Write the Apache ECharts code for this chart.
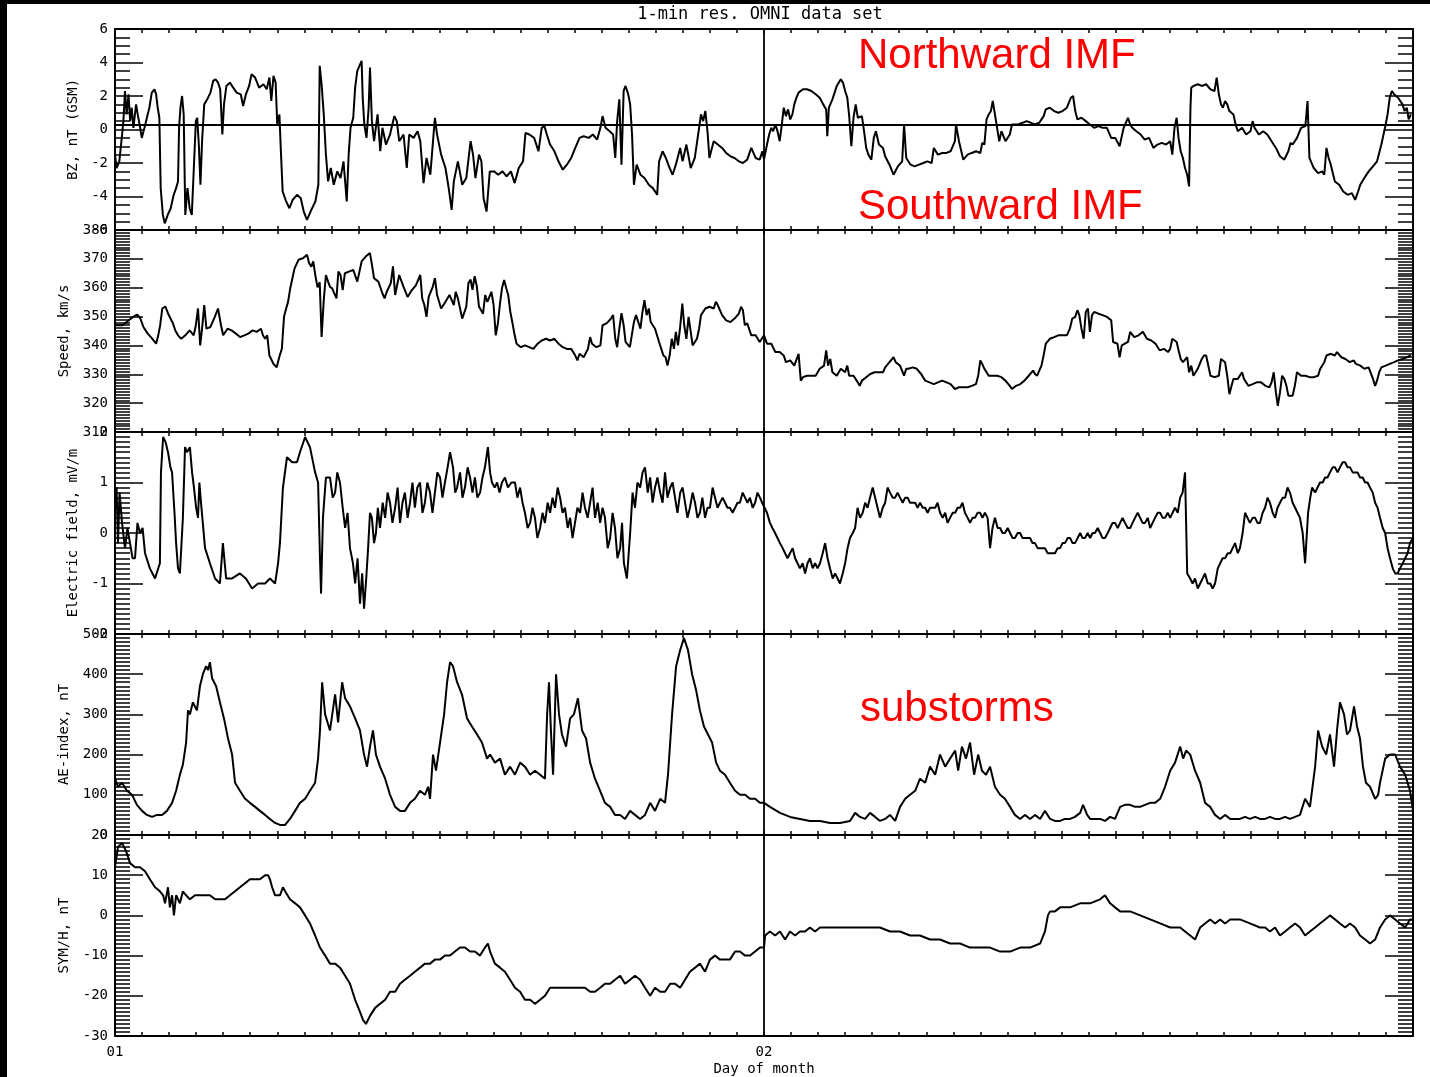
<!DOCTYPE html>
<html>
<head>
<meta charset="utf-8">
<title>1-min res. OMNI data set</title>
<script src="https://cdn.jsdelivr.net/npm/echarts@6/dist/echarts.min.js"></script>
<style>
  html, body { margin: 0; padding: 0; background: #fff; }
  #chart { width: 1430px; height: 1077px; }
</style>
</head>
<body>
<div id="chart"></div>
<script>
// Time is in hours from the start of day 01 (0..48 spans days 01 and 02).
const dayLabels = { 0: '01', 24: '02' };

// IMF Bz, nT (GSM)
const bzPoints = [
  [0.00,-1.5],[0.06,-2.3],[0.16,-1.9],[0.25,-0.5],[0.31,0.5],[0.37,2.3],[0.43,0.9],[0.50,2.1],[0.56,0.5],[0.62,1.3],
  [0.68,0.1],[0.78,1.5],[0.84,0.9],[0.93,0.1],[0.99,-0.5],[1.09,0.1],[1.18,0.7],[1.27,1.3],[1.36,2.2],[1.46,2.4],
  [1.52,2.1],[1.58,1.3],[1.64,0.7],[1.69,-3.5],[1.77,-5.1],[1.84,-5.6],[1.95,-5.1],[2.06,-4.7],[2.17,-3.9],[2.26,-3.5],
  [2.33,-3.1],[2.37,0.1],[2.42,1.3],[2.48,2.0],[2.54,0.9],[2.60,-5.1],[2.68,-3.5],[2.76,-4.7],[2.84,-5.1],[2.91,-2.5],
  [2.99,0.5],[3.04,0.7],[3.10,-0.9],[3.16,-3.3],[3.22,-0.7],[3.30,1.5],[3.41,1.8],[3.53,2.2],[3.63,2.9],[3.72,3.0],
  [3.81,2.8],[3.89,2.4],[3.97,-0.3],[4.03,1.5],[4.12,2.6],[4.25,2.8],[4.37,2.5],[4.50,2.2],[4.65,2.1],[4.74,1.4],
  [4.84,2.1],[4.96,2.6],[5.05,3.3],[5.18,3.1],[5.33,2.5],[5.49,2.7],[5.61,2.4],[5.71,3.1],[5.78,1.7],[5.86,3.2],
  [5.94,2.8],[6.00,0.3],[6.08,0.9],[6.14,-1.5],[6.20,-3.7],[6.33,-4.3],[6.45,-4.7],[6.57,-4.2],[6.73,-3.9],[6.87,-4.1],
  [6.98,-4.9],[7.10,-5.4],[7.26,-4.8],[7.41,-4.3],[7.52,-3.3],[7.57,3.8],[7.64,2.7],[7.72,0.9],[7.80,-1.5],[7.88,-3.1],
  [7.98,-2.3],[8.09,-3.3],[8.22,-2.5],[8.34,-2.9],[8.45,-1.9],[8.57,-4.3],[8.64,-1.5],[8.71,0.1],[8.81,0.7],[8.88,2.5],
  [8.96,3.5],[9.04,3.8],[9.12,4.1],[9.16,1.9],[9.22,0.3],[9.30,-0.5],[9.38,1.3],[9.43,3.7],[9.50,0.5],[9.58,-0.7],
  [9.71,0.9],[9.81,-1.3],[9.89,0.1],[10.02,-0.9],[10.17,-0.3],[10.33,0.8],[10.42,0.5],[10.51,-0.7],[10.67,-0.3],[10.79,-2.3],
  [10.88,-0.3],[11.04,-0.5],[11.19,-0.1],[11.29,-0.7],[11.41,-3.2],[11.52,-1.7],[11.66,-2.7],[11.75,-0.9],[11.83,0.7],[11.91,-0.3],
  [12.06,-1.5],[12.22,-2.3],[12.34,-3.5],[12.45,-4.8],[12.53,-3.1],[12.68,-1.9],[12.84,-3.3],[12.99,-2.9],[13.15,-0.7],[13.24,-1.5],
  [13.33,-2.9],[13.46,-1.5],[13.55,-1.9],[13.63,-4.1],[13.74,-4.9],[13.86,-2.5],[14.02,-2.5],[14.17,-2.7],[14.33,-2.5],[14.48,-2.8],
  [14.64,-2.5],[14.78,-3.2],[14.93,-2.3],[15.09,-1.9],[15.18,-0.2],[15.32,-0.3],[15.50,-0.5],[15.66,-1.3],[15.78,0.1],[15.88,0.2],
  [15.97,-0.3],[16.09,-0.9],[16.25,-1.3],[16.40,-1.9],[16.56,-2.4],[16.71,-2.1],[16.87,-1.7],[17.02,-1.1],[17.18,-0.5],[17.33,-0.4],
  [17.52,-0.5],[17.67,-0.3],[17.83,-0.6],[17.95,0.1],[18.03,0.8],[18.14,0.1],[18.29,-0.1],[18.42,-0.3],[18.50,-1.7],[18.57,0.5],
  [18.65,1.8],[18.73,-2.1],[18.81,2.3],[18.88,2.6],[18.98,2.1],[19.05,1.5],[19.12,-0.3],[19.19,-3.3],[19.29,-2.1],[19.43,-2.7],
  [19.58,-2.9],[19.74,-3.3],[19.89,-3.5],[20.05,-3.9],[20.12,-1.9],[20.25,-1.3],[20.37,-1.7],[20.51,-2.3],[20.62,-2.7],[20.74,-2.1],
  [20.90,-1.1],[20.99,-1.9],[21.13,-0.9],[21.29,-2.3],[21.44,-1.7],[21.60,0.1],[21.67,0.9],[21.75,0.5],[21.83,1.1],[21.91,-0.1],
  [21.98,-1.7],[22.14,-0.7],[22.29,-0.9],[22.45,-1.1],[22.60,-1.4],[22.76,-1.6],[22.91,-1.7],[23.07,-1.9],[23.22,-2.0],[23.38,-1.8],
  [23.53,-1.1],[23.69,-1.7],[23.84,-1.8],[23.94,-1.3],[24.00,-1.8],
  [24.11,-0.9],[24.19,-0.3],[24.27,0.1],[24.34,-0.1],[24.42,0.3],[24.50,-0.1],[24.58,-0.7],[24.66,0.3],[24.73,1.3],[24.81,0.8],
  [24.89,1.2],[24.97,0.6],[25.05,0.9],[25.12,1.5],[25.20,1.9],[25.28,2.2],[25.44,2.4],[25.59,2.4],[25.75,2.3],[25.91,2.1],
  [26.06,1.9],[26.19,1.5],[26.30,1.2],[26.34,-0.4],[26.40,1.3],[26.53,1.8],[26.69,2.6],[26.84,3.0],[26.92,2.8],[27.00,2.3],
  [27.08,1.9],[27.15,0.8],[27.23,-1.0],[27.31,0.7],[27.39,1.5],[27.47,0.7],[27.62,0.8],[27.70,-0.1],[27.78,-1.1],[27.86,-1.5],
  [27.97,-1.8],[28.06,-0.5],[28.14,-0.1],[28.25,-0.9],[28.40,-1.1],[28.48,-1.6],[28.64,-2.1],[28.79,-2.7],[28.95,-2.2],[29.11,-1.9],
  [29.18,0.3],[29.26,-1.7],[29.42,-2.1],[29.57,-2.2],[29.73,-2.1],[29.89,-2.0],[30.04,-1.9],[30.20,-2.0],[30.28,-1.1],[30.43,-1.5],
  [30.59,-1.4],[30.75,-1.4],[30.90,-1.3],[31.06,-0.7],[31.10,0.3],[31.21,-0.7],[31.37,-1.8],[31.53,-1.5],[31.68,-1.4],[31.84,-1.3],
  [32.00,-1.4],[32.07,-0.8],[32.15,-0.9],[32.23,0.6],[32.31,0.9],[32.39,1.1],[32.46,1.7],[32.54,0.9],[32.62,0.1],[32.70,-0.7],
  [32.78,-0.1],[32.93,-0.7],[33.09,-0.3],[33.17,0.3],[33.24,0.3],[33.40,0.3],[33.56,0.4],[33.71,0.5],[33.87,0.4],[34.02,0.3],
  [34.18,0.4],[34.34,0.8],[34.42,1.2],[34.57,1.3],[34.73,1.1],[34.88,1.0],[35.04,1.1],[35.20,1.3],[35.35,1.9],[35.43,2.0],
  [35.51,1.1],[35.59,0.6],[35.74,0.7],[35.90,0.5],[36.05,0.3],[36.21,0.1],[36.37,0.2],[36.52,0.1],[36.68,0.1],[36.84,-0.5],
  [36.99,-0.5],[37.15,-1.0],[37.30,0.1],[37.46,0.7],[37.54,0.3],[37.62,0.1],[37.77,-0.1],[37.93,-0.3],[38.08,-0.6],[38.24,-0.5],
  [38.40,-1.1],[38.55,-0.9],[38.71,-0.8],[38.87,-0.9],[39.02,-0.7],[39.10,-1.5],[39.18,0.1],[39.26,0.7],[39.33,-0.5],[39.41,-1.3],
  [39.49,-1.7],[39.57,-2.3],[39.65,-2.7],[39.72,-3.4],[39.77,1.3],[39.80,2.5],[39.88,2.6],[40.04,2.7],[40.19,2.6],[40.35,2.7],
  [40.51,2.4],[40.66,2.3],[40.74,3.1],[40.82,2.1],[40.90,1.5],[40.97,1.3],[41.05,1.7],[41.13,1.5],[41.21,1.1],[41.36,0.9],
  [41.44,0.3],[41.52,-0.1],[41.68,0.1],[41.83,-0.3],[41.99,-0.1],[42.07,0.5],[42.14,0.1],[42.30,-0.3],[42.46,-0.1],[42.61,-0.3],
  [42.77,-0.7],[42.93,-1.1],[43.08,-1.6],[43.24,-1.8],[43.39,-1.3],[43.47,-0.8],[43.55,-0.9],[43.71,-0.5],[43.86,0.1],[44.02,0.2],
  [44.10,1.7],[44.17,-1.7],[44.33,-2.3],[44.49,-2.6],[44.64,-2.5],[44.72,-2.7],[44.80,-1.1],[44.88,-1.7],[44.96,-2.1],[45.11,-3.1],
  [45.27,-3.3],[45.42,-3.7],[45.58,-3.9],[45.74,-3.8],[45.86,-4.2],[45.97,-3.7],[46.05,-3.3],[46.20,-2.9],[46.36,-2.5],[46.52,-2.2],
  [46.67,-1.9],[46.83,-0.9],[46.91,-0.3],[46.99,0.3],[47.06,0.9],[47.14,1.9],[47.22,2.3],[47.30,2.1],[47.45,1.9],[47.61,1.5],
  [47.69,1.1],[47.77,1.3],[47.84,0.6],[47.92,0.9]
];

// Solar wind speed, km/s
const speedPoints = [
  [0.00,347],[0.28,347],[0.51,348.7],[0.67,349.9],[0.82,350.7],[0.93,349.5],[1.05,346.4],[1.21,344.1],[1.36,342.5],[1.52,340.6],
  [1.60,343.5],[1.67,347],[1.75,352.8],[1.86,353.5],[1.98,350.7],[2.14,347.7],[2.23,345.2],[2.33,343.5],[2.45,342.3],[2.60,343.5],
  [2.76,345.2],[2.91,343.5],[2.99,347],[3.07,352.8],[3.15,340],[3.22,345.8],[3.30,354],[3.38,345.8],[3.53,346.4],[3.69,349.9],
  [3.81,352.8],[3.92,347],[4.00,343.5],[4.16,345.8],[4.31,345.2],[4.47,344.1],[4.62,342.9],[4.78,343.5],[4.93,344.1],[5.09,345.2],
  [5.24,344.7],[5.40,345.8],[5.47,343.5],[5.55,342.3],[5.63,343.5],[5.71,336.5],[5.86,333.6],[5.98,332.4],[6.09,336.5],[6.17,338.8],
  [6.25,349.9],[6.33,352.8],[6.40,355.1],[6.48,359.8],[6.64,366.7],[6.79,369.7],[6.95,370.2],[7.10,371.4],[7.18,368.5],[7.26,367.3],
  [7.33,369.1],[7.41,364.2],[7.49,360.1],[7.57,361.9],[7.64,342.9],[7.72,355.7],[7.80,364.4],[7.88,362.1],[7.95,360.3],[8.03,359.8],
  [8.19,356.3],[8.26,365.6],[8.34,364.4],[8.42,359.2],[8.50,365],[8.65,365.6],[8.81,366.2],[8.96,362.1],[9.12,369.1],[9.27,370.8],
  [9.43,372.0],[9.50,368],[9.58,363.3],[9.74,362.1],[9.89,358.0],[9.97,356.3],[10.05,358.6],[10.20,361.6],[10.28,367.4],[10.36,357.5],
  [10.51,364.4],[10.67,360.3],[10.82,356.8],[10.98,359.2],[11.13,360.9],[11.29,364.4],[11.36,356.3],[11.44,354],[11.52,349.9],[11.60,356.8],
  [11.75,360.3],[11.83,363.3],[11.91,357.5],[12.06,352.8],[12.22,355.1],[12.37,357.5],[12.53,354],[12.60,358.6],[12.68,356.3],[12.84,349.3],
  [12.99,353.4],[13.07,361.6],[13.15,362.8],[13.22,359.3],[13.30,364],[13.38,360.5],[13.46,353.5],[13.61,351],[13.69,357.5],[13.77,355.1],
  [13.92,358.6],[14.00,354],[14.08,343.5],[14.16,347.7],[14.23,354],[14.31,359.8],[14.39,362.7],[14.47,359.8],[14.54,357.5],[14.62,351.6],
  [14.70,347.7],[14.78,343.5],[14.85,340.6],[15.01,339.4],[15.16,340],[15.32,339.4],[15.47,338.8],[15.63,340.6],[15.78,341.7],[15.94,342.3],
  [16.09,341.7],[16.25,342.3],[16.40,340.6],[16.56,339.4],[16.71,338.8],[16.87,338.8],[17.02,336.5],[17.10,334.8],[17.18,337.1],[17.33,335.9],
  [17.49,338.8],[17.57,342.9],[17.64,340.6],[17.80,339.4],[17.95,340],[18.03,347],[18.19,347.7],[18.34,349.3],[18.42,350.5],[18.50,342.3],
  [18.57,339.4],[18.65,345.8],[18.73,351.2],[18.81,347],[18.88,341.2],[19.04,339.4],[19.19,348.1],[19.27,350.5],[19.43,345.8],[19.50,351.2],
  [19.58,355.7],[19.66,350.5],[19.74,352.8],[19.81,348.1],[19.97,345.8],[20.12,341.2],[20.28,336.5],[20.36,335.9],[20.43,333],[20.51,336.5],
  [20.59,342.3],[20.67,338.8],[20.74,344.7],[20.82,340],[20.90,346.4],[20.98,354.5],[21.05,347],[21.13,342.3],[21.21,349.9],[21.29,344.7],
  [21.36,340],[21.52,342.3],[21.60,345.8],[21.67,350.5],[21.83,352.8],[21.98,353.4],[22.14,352.8],[22.22,355.1],[22.29,354],[22.45,350.5],
  [22.60,348.7],[22.76,348.1],[22.91,349.3],[23.07,351],[23.15,353.4],[23.22,352.2],[23.29,347],[23.38,347.7],[23.53,343.5],[23.69,343.5],
  [23.84,341.2],[24.00,343.5],
  [24.11,340.6],[24.27,340.6],[24.42,337.7],[24.58,337.7],[24.73,336.5],[24.81,334.2],[24.97,334.8],[25.12,333.0],[25.28,337.1],[25.36,327.8],
  [25.44,329.0],[25.59,329.5],[25.75,329.5],[25.91,329.5],[26.06,331.9],[26.22,333.0],[26.30,338.3],[26.37,333.0],[26.45,335.3],[26.53,330.7],
  [26.69,329.5],[26.84,331.9],[27.00,330.7],[27.08,333.0],[27.15,329.5],[27.31,329.5],[27.47,327.2],[27.54,326.0],[27.62,327.8],[27.78,329.0],
  [27.93,330.1],[28.09,330.7],[28.25,330.7],[28.40,330.7],[28.48,332.4],[28.64,334.2],[28.79,335.9],[28.87,334.2],[29.03,333.0],[29.18,329.5],
  [29.26,331.9],[29.34,331.9],[29.50,332.4],[29.65,331.9],[29.81,330.1],[29.96,327.8],[30.12,327.2],[30.28,326.6],[30.43,327.2],[30.59,327.8],
  [30.75,327.2],[30.90,326.6],[31.06,324.9],[31.21,325.5],[31.37,325.5],[31.53,325.5],[31.68,326.0],[31.84,326.6],[31.92,329.5],[32.00,334.8],
  [32.07,333.6],[32.15,331.9],[32.31,329.5],[32.46,329.5],[32.62,329.5],[32.78,329.0],[32.93,327.8],[33.09,326.0],[33.17,324.9],[33.32,326.0],
  [33.48,326.6],[33.63,327.8],[33.79,329.5],[33.95,331.3],[34.02,330.1],[34.10,329.5],[34.26,333.0],[34.34,336.5],[34.42,340.6],[34.57,342.3],
  [34.73,342.9],[34.88,343.5],[35.04,343.5],[35.20,343.5],[35.31,345.8],[35.40,349.3],[35.51,349.9],[35.59,352.2],[35.66,350.5],[35.74,345.8],
  [35.82,342.3],[35.90,351.6],[35.98,352.8],[36.05,344.7],[36.13,350.5],[36.21,351.6],[36.37,351.0],[36.52,350.5],[36.68,349.9],[36.84,348.7],
  [36.91,341.2],[37.07,340.6],[37.15,335.9],[37.23,340.0],[37.30,340.6],[37.46,341.2],[37.54,344.7],[37.69,342.9],[37.85,343.5],[38.01,344.7],
  [38.16,342.3],[38.32,341.7],[38.48,340.6],[38.63,338.3],[38.79,338.8],[38.94,337.7],[39.02,338.8],[39.10,342.3],[39.26,341.2],[39.33,338.3],
  [39.41,335.3],[39.49,334.2],[39.65,335.9],[39.72,330.7],[39.80,333.0],[39.88,329.5],[40.04,331.9],[40.19,335.3],[40.27,336.5],[40.35,336.5],
  [40.51,329.5],[40.66,329.0],[40.82,329.5],[40.90,335.3],[40.97,335.9],[41.05,334.2],[41.13,329.5],[41.21,323.1],[41.29,326.0],[41.36,328.4],
  [41.52,328.4],[41.68,330.7],[41.75,328.4],[41.91,326.0],[42.07,326.6],[42.22,327.2],[42.38,327.2],[42.54,326.0],[42.69,325.5],[42.77,327.2],
  [42.85,330.7],[42.93,323.7],[43.00,319.1],[43.08,323.7],[43.16,329.5],[43.24,328.4],[43.32,326.0],[43.39,322.6],[43.55,322.6],[43.63,326.0],
  [43.71,330.7],[43.86,329.5],[44.02,329.5],[44.17,329.0],[44.33,329.0],[44.49,329.5],[44.57,331.9],[44.72,334.2],[44.80,336.5],[44.96,337.1],
  [45.11,336.5],[45.19,337.7],[45.35,335.9],[45.50,335.3],[45.66,334.2],[45.81,334.8],[45.89,333.6],[46.05,333.0],[46.20,331.9],[46.36,332.4],
  [46.52,328.4],[46.60,326.0],[46.67,327.8],[46.75,330.7],[46.83,332.4],[46.99,333.0],[47.14,333.6],[47.30,334.2],[47.45,334.8],[47.61,335.3],
  [47.77,335.9],[47.92,336.5]
];

// Electric field, mV/m
const efieldPoints = [
  [0,0.5],[0.06,0.9],[0.11,-0.2],[0.17,0.8],[0.26,0.2],[0.37,-0.3],[0.46,0.1],[0.555,-0.2],[0.65,-0.5],[0.74,-0.5],[0.83,0.2],[0.925,0],
  [1.02,0.1],[1.11,-0.4],[1.29,-0.7],[1.48,-0.9],[1.66,-0.6],[1.70,1.2],[1.78,1.9],[1.87,1.8],[1.96,1.6],[2.05,1.3],[2.11,1.2],
  [2.20,0.4],[2.26,-0.2],[2.33,-0.7],[2.40,-0.8],[2.51,0.3],[2.59,1.7],[2.66,1.6],[2.77,1.7],[2.85,1.2],[2.92,0.9],[3.00,0.5],
  [3.07,0.3],[3.12,1.0],[3.18,0.6],[3.33,-0.3],[3.51,-0.6],[3.70,-0.9],[3.88,-1.0],[3.99,-0.2],[4.11,-0.9],[4.33,-0.9],
  [4.62,-0.8],[4.84,-0.9],[5.07,-1.1],[5.29,-1.0],[5.55,-1.0],[5.73,-0.9],[5.92,-1.0],[6.03,-0.6],[6.10,-0.2],[6.21,0.9],
  [6.36,1.5],[6.55,1.4],[6.73,1.4],[6.84,1.6],[7.03,1.9],[7.21,1.7],[7.40,1.2],[7.51,1.0],[7.58,-0.5],[7.62,-1.2],
  [7.69,0.3],[7.80,1.1],[7.95,1.1],[8.05,0.7],[8.14,0.8],[8.22,1.2],[8.32,1.0],[8.42,0.5],[8.51,0.1],[8.60,0.4],[8.69,-0.3],
  [8.80,-0.6],[8.88,-1.0],[8.97,-0.5],[9.06,-1.4],[9.14,-0.8],[9.21,-1.5],[9.29,-0.9],[9.36,-0.3],[9.43,0.4],[9.50,0.3],
  [9.58,-0.2],[9.65,0.0],[9.72,0.5],[9.80,0.1],[9.90,0.6],[9.99,0.3],[10.08,0.8],[10.17,0.6],[10.26,0.2],[10.36,0.5],
  [10.45,0.9],[10.54,0.2],[10.63,0.6],[10.72,0.8],[10.82,0.3],[10.91,0.6],[11.00,1.0],[11.09,0.5],[11.18,0.9],[11.28,1.0],
  [11.37,0.4],[11.46,0.6],[11.55,1.0],[11.65,0.8],[11.74,0.4],[11.83,0.8],[11.92,1.2],[12.02,1.1],[12.11,0.7],[12.20,1.0],
  [12.30,1.3],[12.39,1.6],[12.50,1.3],[12.58,0.8],[12.65,0.9],[12.76,1.2],[12.85,0.7],[12.94,0.9],[13.04,1.3],[13.13,1.1],
  [13.22,0.8],[13.31,1.1],[13.40,0.7],[13.50,0.8],[13.59,1.1],[13.68,1.3],[13.79,1.7],[13.87,1.2],[13.94,1.0],[14.04,0.9],[14.13,1.0],
  [14.22,0.8],[14.31,1.0],[14.42,1.1],[14.53,0.9],[14.66,1.0],[14.79,1.0],[14.88,0.7],[14.98,0.9],[15.07,0.6],[15.16,0.4],
  [15.26,0.1],[15.35,0.2],[15.44,0.5],[15.53,0.3],[15.62,-0.1],[15.72,0.1],[15.81,0.4],[15.90,0.2],[16.00,0.6],[16.09,0.4],
  [16.18,0.7],[16.27,0.5],[16.37,0.9],[16.46,0.7],[16.55,0.4],[16.64,0.5],[16.74,0.1],[16.83,0.3],[16.92,-0.1],[17.01,0.2],
  [17.10,0.5],[17.20,0.4],[17.29,0.8],[17.38,0.5],[17.48,0.3],[17.57,0.6],[17.66,0.9],[17.75,0.3],[17.85,0.6],[17.94,0.2],
  [18.03,0.5],[18.12,0.3],[18.22,-0.3],[18.31,-0.1],[18.40,0.4],[18.49,0.1],[18.58,-0.5],[18.68,-0.3],[18.75,0.2],[18.82,-0.6],
  [18.93,-0.9],[19.05,0.0],[19.14,0.8],[19.23,0.5],[19.32,1.0],[19.42,0.9],[19.51,1.2],[19.60,1.3],[19.70,0.8],[19.79,1.1],
  [19.88,0.6],[19.97,0.9],[20.06,1.1],[20.16,0.8],[20.25,0.6],[20.34,1.2],[20.43,0.7],[20.53,0.9],[20.62,1.0],[20.71,0.7],
  [20.80,0.4],[20.90,0.8],[20.99,0.9],[21.08,0.6],[21.17,0.3],[21.26,0.5],[21.36,0.8],[21.45,0.6],[21.54,0.3],[21.63,0.4],
  [21.72,0.7],[21.82,0.3],[21.91,0.5],[22.00,0.5],[22.10,0.9],[22.19,0.7],[22.28,0.5],[22.37,0.6],[22.47,0.7],[22.56,0.6],
  [22.65,0.5],[22.74,0.5],[22.84,0.4],[22.93,0.5],[23.02,0.6],[23.11,0.6],[23.21,0.8],[23.30,0.7],[23.39,0.6],[23.48,0.7],
  [23.58,0.5],[23.67,0.6],[23.76,0.8],[23.85,0.7],[23.93,0.6],[24.0,0.6],
  [24.11,0.4],[24.22,0.2],[24.31,0.1],[24.41,0.0],[24.50,-0.1],[24.59,-0.2],[24.69,-0.3],[24.78,-0.4],[24.87,-0.5],[24.96,-0.4],
  [25.06,-0.3],[25.15,-0.5],[25.24,-0.6],[25.33,-0.7],[25.43,-0.6],[25.52,-0.8],[25.61,-0.6],[25.70,-0.5],[25.80,-0.7],[25.89,-0.6],
  [25.98,-0.7],[26.07,-0.6],[26.17,-0.4],[26.26,-0.2],[26.35,-0.5],[26.44,-0.7],[26.54,-0.9],[26.63,-0.8],[26.72,-0.9],[26.81,-1.0],
  [26.91,-0.8],[27.00,-0.6],[27.09,-0.3],[27.18,-0.1],[27.28,0.0],[27.37,0.1],[27.46,0.5],[27.55,0.3],[27.65,0.4],[27.74,0.6],
  [27.83,0.5],[27.92,0.7],[28.02,0.9],[28.11,0.7],[28.20,0.5],[28.29,0.3],[28.39,0.5],[28.48,0.6],[28.57,0.9],[28.66,0.8],
  [28.76,0.7],[28.85,0.7],[28.94,0.8],[29.03,0.7],[29.13,0.6],[29.22,0.7],[29.31,0.7],[29.40,0.6],[29.50,0.6],[29.59,0.6],
  [29.68,0.5],[29.77,0.6],[29.87,0.5],[29.96,0.5],[30.05,0.4],[30.14,0.5],[30.24,0.5],[30.33,0.5],[30.42,0.6],[30.51,0.4],
  [30.61,0.3],[30.70,0.4],[30.79,0.2],[30.88,0.3],[30.98,0.4],[31.07,0.4],[31.16,0.5],[31.25,0.5],[31.34,0.6],[31.43,0.4],
  [31.53,0.3],[31.62,0.2],[31.71,0.3],[31.80,0.3],[31.90,0.4],[31.99,0.4],[32.08,0.3],[32.17,0.4],[32.27,0.3],[32.36,-0.3],
  [32.45,0.1],[32.54,0.3],[32.64,0.1],[32.73,0.1],[32.82,0.0],[32.91,0.0],[33.01,0.1],[33.10,0.0],[33.19,-0.1],[33.28,-0.1],
  [33.38,0.0],[33.47,0.0],[33.56,-0.1],[33.65,-0.1],[33.75,-0.1],[33.84,-0.1],[33.93,-0.2],[34.02,-0.2],[34.12,-0.3],[34.21,-0.3],
  [34.30,-0.3],[34.39,-0.3],[34.49,-0.4],[34.58,-0.4],[34.67,-0.4],[34.76,-0.4],[34.86,-0.3],[34.95,-0.3],[35.04,-0.2],[35.13,-0.2],
  [35.23,-0.1],[35.32,-0.1],[35.41,-0.2],[35.50,-0.2],[35.60,-0.1],[35.69,0.0],[35.78,-0.1],[35.87,-0.1],[35.97,0.0],[36.06,-0.1],
  [36.15,0.0],[36.24,0.0],[36.34,0.1],[36.43,0.0],[36.52,-0.1],[36.61,-0.1],[36.71,0.0],[36.80,0.1],[36.89,0.2],[36.98,0.2],
  [37.08,0.1],[37.17,0.2],[37.26,0.3],[37.35,0.2],[37.45,0.1],[37.54,0.1],[37.63,0.2],[37.72,0.3],[37.82,0.4],[37.91,0.3],
  [38.00,0.2],[38.09,0.2],[38.19,0.3],[38.28,0.1],[38.37,0.2],[38.46,0.3],[38.56,0.4],[38.65,0.4],[38.74,0.3],[38.83,0.3],
  [38.93,0.4],[39.02,0.3],[39.11,0.4],[39.20,0.5],[39.30,0.4],[39.39,0.7],[39.48,0.8],[39.57,1.2],[39.65,-0.8],[39.76,-0.9],
  [39.85,-1.0],[39.94,-0.9],[40.04,-1.1],[40.13,-1.0],[40.22,-0.9],[40.31,-0.8],[40.41,-1.0],[40.50,-1.0],[40.59,-1.1],[40.68,-1.0],
  [40.78,-0.7],[40.87,-0.6],[40.96,-0.5],[41.05,-0.5],[41.15,-0.4],[41.24,-0.4],[41.33,-0.3],[41.42,-0.2],[41.52,-0.4],[41.60,-0.3],
  [41.70,0.0],[41.79,0.4],[41.88,0.3],[41.97,0.2],[42.07,0.3],[42.16,0.3],[42.25,0.2],[42.34,0.2],[42.44,0.4],[42.53,0.5],
  [42.62,0.7],[42.71,0.6],[42.81,0.4],[42.90,0.3],[42.99,0.5],[43.08,0.6],[43.18,0.7],[43.27,0.7],[43.36,0.9],[43.45,0.8],
  [43.55,0.6],[43.64,0.5],[43.73,0.4],[43.82,0.3],[43.92,0.0],[44.01,-0.6],[44.12,0.4],[44.20,0.7],[44.27,0.9],[44.38,0.8],
  [44.47,0.9],[44.56,1.0],[44.66,1.0],[44.75,1.1],[44.84,1.1],[44.93,1.2],[45.03,1.3],[45.12,1.3],[45.21,1.2],[45.30,1.3],
  [45.40,1.4],[45.49,1.4],[45.58,1.3],[45.67,1.3],[45.77,1.2],[45.86,1.2],[45.95,1.2],[46.04,1.1],[46.14,1.1],[46.23,1.0],
  [46.32,1.0],[46.41,0.9],[46.51,0.8],[46.60,0.6],[46.69,0.5],[46.78,0.3],[46.88,0.1],[46.97,0.0],[47.06,-0.3],[47.15,-0.5],
  [47.25,-0.7],[47.34,-0.8],[47.43,-0.8],[47.52,-0.7],[47.62,-0.6],[47.71,-0.5],[47.80,-0.4],[47.89,-0.2],[48.0,-0.1]
];

// AE index, nT
const aePoints = [
  [0,140],[0.11,120],[0.26,130],[0.44,110],[0.63,100],[0.81,75],[1.00,60],[1.18,50],[1.37,45],[1.55,50],
  [1.74,50],[1.92,60],[2.11,80],[2.26,110],[2.40,150],[2.51,175],[2.63,230],[2.70,310],[2.77,300],[2.88,330],
  [3.03,310],[3.14,370],[3.25,400],[3.37,420],[3.44,410],[3.51,430],[3.59,390],[3.74,370],[3.88,330],[4.03,290],
  [4.18,240],[4.33,200],[4.44,130],[4.62,110],[4.81,90],[4.99,80],[5.18,70],[5.36,60],[5.55,50],[5.73,40],
  [5.92,30],[6.10,25],[6.29,25],[6.47,40],[6.66,60],[6.84,80],[7.03,90],[7.21,110],[7.40,130],[7.51,190],
  [7.58,260],[7.66,380],[7.77,300],[7.95,260],[8.14,350],[8.25,280],[8.40,380],[8.51,340],[8.69,320],[8.88,290],
  [9.06,260],[9.21,200],[9.32,170],[9.43,220],[9.54,260],[9.65,200],[9.80,170],[9.99,140],[10.17,100],[10.36,70],
  [10.54,60],[10.72,60],[10.91,80],[11.09,90],[11.28,110],[11.46,100],[11.58,120],[11.65,90],[11.76,200],[11.87,160],
  [12.02,230],[12.17,300],[12.28,380],[12.39,430],[12.50,420],[12.65,380],[12.83,350],[13.02,290],[13.20,270],[13.39,250],
  [13.57,230],[13.76,190],[13.87,200],[14.05,180],[14.24,190],[14.42,150],[14.61,170],[14.79,150],[14.98,180],[15.16,170],
  [15.35,150],[15.53,160],[15.72,150],[15.90,140],[15.98,300],[16.05,380],[16.12,260],[16.20,150],[16.31,400],[16.42,300],
  [16.53,250],[16.68,220],[16.83,290],[16.97,300],[17.12,340],[17.27,260],[17.42,240],[17.57,180],[17.75,140],[17.94,110],
  [18.12,80],[18.31,70],[18.49,50],[18.68,50],[18.86,40],[19.05,60],[19.23,50],[19.42,40],[19.60,50],[19.79,80],
  [19.97,60],[20.16,90],[20.34,80],[20.45,150],[20.60,300],[20.75,420],[20.90,460],[21.04,490],[21.19,460],[21.34,400],
  [21.49,360],[21.63,310],[21.78,270],[21.93,250],[22.08,230],[22.23,180],[22.37,160],[22.56,150],[22.74,130],[22.93,110],
  [23.11,100],[23.30,100],[23.48,90],[23.67,90],[23.85,80],[24.0,80],
  [24.22,70],[24.59,55],[24.96,45],[25.33,40],[25.70,35],[26.07,35],[26.44,30],[26.81,30],[27.18,35],[27.37,55],
  [27.55,45],[27.74,40],[27.92,55],[28.11,45],[28.29,35],[28.48,40],[28.66,50],[28.85,35],[29.03,70],[29.22,90],
  [29.40,100],[29.59,110],[29.77,140],[29.96,130],[30.14,170],[30.33,150],[30.51,200],[30.70,170],[30.88,190],[31.07,210],
  [31.18,160],[31.32,220],[31.47,190],[31.62,230],[31.77,150],[31.92,200],[32.06,160],[32.21,150],[32.36,170],[32.54,120],
  [32.73,100],[32.91,90],[33.10,70],[33.28,50],[33.47,40],[33.65,50],[33.84,40],[34.02,50],[34.21,40],[34.39,60],
  [34.58,40],[34.76,35],[34.95,35],[35.13,40],[35.32,40],[35.50,45],[35.69,55],[35.80,75],[35.95,50],[36.06,40],
  [36.24,40],[36.43,40],[36.61,35],[36.80,45],[36.98,40],[37.17,70],[37.35,75],[37.54,75],[37.72,70],[37.91,70],
  [38.09,75],[38.28,80],[38.46,80],[38.65,90],[38.83,120],[39.02,160],[39.20,180],[39.39,220],[39.50,190],[39.61,210],
  [39.76,200],[39.94,160],[40.13,130],[40.31,80],[40.50,70],[40.68,50],[40.87,40],[41.05,50],[41.24,40],[41.42,40],
  [41.60,40],[41.79,45],[41.97,40],[42.16,45],[42.34,40],[42.53,40],[42.71,45],[42.90,40],[43.08,40],[43.27,45],
  [43.45,40],[43.64,45],[43.82,50],[44.01,90],[44.19,70],[44.38,170],[44.49,260],[44.64,220],[44.79,200],[44.93,250],
  [45.08,170],[45.19,260],[45.30,330],[45.45,300],[45.56,250],[45.67,260],[45.82,320],[45.93,270],[46.04,240],[46.15,170],
  [46.26,130],[46.41,120],[46.60,90],[46.71,100],[46.78,130],[46.97,190],[47.15,200],[47.34,200],[47.52,170],[47.71,150],
  [47.89,110],[48.0,60]
];

// SYM/H index, nT
const symhPoints = [
  [0,12],[0.11,17],[0.26,18],[0.41,16],[0.555,13],[0.74,12],[0.925,12],[1.11,11],[1.29,9],[1.48,7],
  [1.66,6],[1.78,5],[1.85,3],[1.96,7],[2.03,2],[2.11,5],[2.18,0],[2.26,5],[2.40,3],[2.51,6],
  [2.63,5],[2.77,4],[2.96,5],[3.14,5],[3.33,5],[3.51,5],[3.70,4],[3.88,4],[4.07,4],[4.25,5],
  [4.44,6],[4.62,7],[4.81,8],[4.99,9],[5.18,9],[5.36,9],[5.55,10],[5.66,10],[5.73,9],[5.81,7],
  [5.92,5],[6.10,5],[6.21,7],[6.29,6],[6.47,4],[6.66,3],[6.84,2],[7.03,0],[7.21,-2],[7.40,-5],
  [7.58,-8],[7.77,-10],[7.95,-12],[8.14,-12],[8.32,-13],[8.51,-15],[8.69,-17],[8.88,-21],[9.06,-24],[9.17,-26],
  [9.28,-27],[9.43,-25],[9.62,-23],[9.80,-22],[9.99,-21],[10.17,-19],[10.36,-19],[10.54,-17],[10.72,-16],[10.91,-15],
  [11.09,-14],[11.28,-13],[11.46,-12],[11.65,-12],[11.83,-11],[12.02,-11],[12.20,-10],[12.39,-10],[12.57,-9],[12.76,-8],
  [12.94,-8],[13.13,-9],[13.31,-9],[13.50,-10],[13.68,-8],[13.79,-7],[13.87,-9],[14.05,-12],[14.24,-13],[14.42,-14],
  [14.61,-16],[14.79,-18],[14.98,-19],[15.16,-21],[15.35,-21],[15.53,-22],[15.72,-21],[15.90,-20],[16.09,-18],[16.27,-18],
  [16.46,-18],[16.64,-18],[16.83,-18],[17.01,-18],[17.20,-18],[17.38,-18],[17.57,-19],[17.75,-19],[17.94,-18],[18.12,-17],
  [18.31,-17],[18.49,-16],[18.68,-15],[18.86,-17],[19.05,-16],[19.23,-15],[19.42,-16],[19.60,-18],[19.79,-20],[19.97,-18],
  [20.16,-19],[20.34,-19],[20.53,-17],[20.71,-17],[20.90,-18],[21.08,-16],[21.26,-14],[21.45,-13],[21.63,-12],[21.82,-14],
  [22.00,-11],[22.19,-10],[22.37,-11],[22.56,-11],[22.74,-11],[22.93,-9],[23.11,-9],[23.30,-10],[23.48,-10],[23.67,-9],
  [23.85,-8],[24.0,-8],
  [24.04,-5],[24.22,-4],[24.41,-5],[24.59,-4],[24.78,-6],[24.96,-4],[25.15,-5],[25.33,-4],[25.52,-4],[25.70,-3],
  [25.89,-4],[26.07,-3],[26.44,-3],[26.81,-3],[27.18,-3],[27.55,-3],[27.92,-3],[28.29,-3],[28.66,-4],[29.03,-4],
  [29.40,-5],[29.77,-5],[30.14,-6],[30.51,-6],[30.88,-7],[31.25,-7],[31.62,-8],[31.99,-8],[32.36,-8],[32.73,-9],
  [33.10,-9],[33.47,-8],[33.84,-8],[34.21,-7],[34.39,-4],[34.50,0],[34.58,1],[34.76,1],[34.95,2],[35.32,2],
  [35.69,3],[36.06,3],[36.43,4],[36.61,5],[36.80,3],[36.98,2],[37.17,1],[37.35,1],[37.54,1],[37.91,0],
  [38.28,-1],[38.65,-2],[39.02,-3],[39.39,-3],[39.57,-4],[39.76,-5],[39.94,-6],[40.13,-3],[40.31,-2],[40.50,-1],
  [40.68,-2],[40.87,-1],[41.05,-2],[41.24,-1],[41.60,-1],[41.97,-2],[42.34,-3],[42.53,-3],[42.71,-4],[42.90,-3],
  [43.08,-5],[43.27,-4],[43.45,-3],[43.64,-2],[43.82,-3],[44.01,-5],[44.19,-4],[44.38,-3],[44.56,-2],[44.75,-1],
  [44.93,0],[45.12,-1],[45.30,-2],[45.49,-3],[45.67,-2],[45.86,-3],[46.04,-5],[46.23,-6],[46.41,-7],[46.60,-6],
  [46.78,-3],[46.97,-1],[47.15,0],[47.34,-1],[47.52,-2],[47.71,-3],[47.89,-1],[48.0,-1]
];

// Panel definitions, top to bottom
const panelNames   = ['BZ, nT (GSM)', 'Speed, km/s', 'Electric field, mV/m', 'AE-index, nT', 'SYM/H, nT'];
const panelSeries  = [bzPoints, speedPoints, efieldPoints, aePoints, symhPoints];
const panelMin     = [-6, 310, -2, 0, -30];
const panelMax     = [6, 380, 2, 500, 20];
const panelStep    = [2, 10, 1, 100, 10];
const panelMinorStep = [0.5, 1, 0.1, 10, 1];
const bzReference  = 0.3;   // horizontal reference line drawn in the Bz panel
const dayBoundary  = 24;    // start of day 02

const annotations = [
  { text: 'Northward IMF', x: 858, y: 56 },
  { text: 'Southward IMF', x: 858, y: 207 },
  { text: 'substorms',     x: 860, y: 709 }
];

const plotLeft = 115, plotRight = 1413;
const panelTop = [29, 230, 432, 634, 835];
const panelHeight = [201, 202, 202, 201, 201];
const nameGaps = [35, 43, 35, 43, 43];

const monoFont = 'DejaVu Sans Mono';
const ink = '#000';

const grid = [], xAxis = [], yAxis = [], series = [];

panelNames.forEach((name, i) => {
  grid.push({ left: plotLeft, width: plotRight - plotLeft, top: panelTop[i], height: panelHeight[i] });
  const isLast = i === panelNames.length - 1;

  // hourly ticks along the bottom and top edges of every panel
  const xBase = {
    gridIndex: i, type: 'value', min: 0, max: 48, interval: 1,
    axisLine: { show: true, onZero: false, lineStyle: { color: ink, width: 2 } },
    axisTick: { show: true, inside: true, length: 4, lineStyle: { color: ink, width: 1.5 } },
    splitLine: { show: false }
  };
  xAxis.push(Object.assign({}, xBase, {
    position: 'bottom',
    axisLabel: {
      show: isLast, color: ink, fontFamily: monoFont, fontSize: 14, margin: 9,
      formatter: v => dayLabels[v] || ''
    },
    name: isLast ? 'Day of month' : '',
    nameLocation: 'middle', nameGap: 26,
    nameTextStyle: { color: ink, fontFamily: monoFont, fontSize: 14 }
  }));
  xAxis.push(Object.assign({}, xBase, { position: 'top', axisLabel: { show: false } }));

  // major ticks (long, labelled on the left) and minor ticks (short), mirrored on the right
  const yMajor = {
    gridIndex: i, type: 'value', min: panelMin[i], max: panelMax[i], interval: panelStep[i],
    axisLine: { show: true, onZero: false, lineStyle: { color: ink, width: 2 } },
    axisTick: { show: true, inside: true, length: 28, lineStyle: { color: ink, width: 1.5 } },
    splitLine: { show: false }
  };
  const yMinor = {
    gridIndex: i, type: 'value', min: panelMin[i], max: panelMax[i], interval: panelMinorStep[i],
    axisLine: { show: false, onZero: false },
    axisTick: { show: true, inside: true, length: 15, lineStyle: { color: ink, width: 1.5 } },
    axisLabel: { show: false },
    splitLine: { show: false }
  };
  yAxis.push(Object.assign({}, yMajor, {
    position: 'left',
    axisLabel: { color: ink, fontFamily: monoFont, fontSize: 14, margin: 7, showMinLabel: true, showMaxLabel: true },
    name: name, nameLocation: 'middle', nameRotate: 90, nameGap: nameGaps[i],
    nameTextStyle: { color: ink, fontFamily: monoFont, fontSize: 14 }
  }));
  yAxis.push(Object.assign({}, yMajor, { position: 'right', axisLabel: { show: false } }));
  yAxis.push(Object.assign({}, yMinor, { position: 'left' }));
  yAxis.push(Object.assign({}, yMinor, { position: 'right' }));

  const lines = [{ xAxis: dayBoundary }];
  if (i === 0) lines.push({ yAxis: bzReference });
  series.push({
    type: 'line', xAxisIndex: 2 * i, yAxisIndex: 4 * i,
    data: panelSeries[i], showSymbol: false, symbol: 'none',
    lineStyle: { color: ink, width: 2 },
    markLine: {
      silent: true, symbol: 'none', animation: false,
      label: { show: false },
      lineStyle: { color: ink, width: 1.8, type: 'solid' },
      data: lines
    },
    z: 3
  });
});

const graphic = [
  { type: 'rect', shape: { x: 0, y: 0, width: 1430, height: 4 }, style: { fill: ink }, z: 100 },
  { type: 'rect', shape: { x: 0, y: 0, width: 7, height: 1077 }, style: { fill: ink }, z: 100 },
  { type: 'text', x: 760, y: 15,
    style: { text: '1-min res. OMNI data set', fill: ink, font: '17px "DejaVu Sans Mono"', align: 'center', verticalAlign: 'middle' } }
].concat(annotations.map(a => ({
  type: 'text', x: a.x, y: a.y, z: 50,
  style: { text: a.text, fill: '#ff0000', font: '42px "Liberation Sans", Arial, sans-serif', align: 'left', verticalAlign: 'middle' }
})));

const chart = echarts.init(document.getElementById('chart'), null, { renderer: 'canvas' });
chart.setOption({
  animation: false,
  backgroundColor: '#fff',
  grid, xAxis, yAxis, series, graphic
});
</script>
</body>
</html>
